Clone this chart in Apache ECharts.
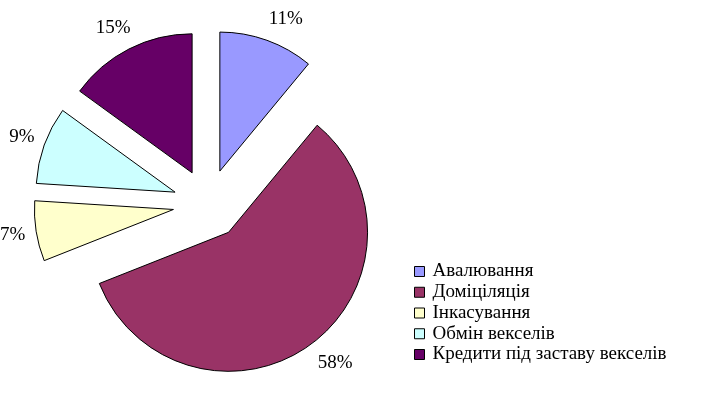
<!DOCTYPE html>
<html>
<head>
<meta charset="utf-8">
<script src="https://cdn.jsdelivr.net/npm/echarts@6/dist/echarts.min.js"></script>
<style>
html,body{margin:0;padding:0;background:#fff;}
#c{width:704px;height:399px;}
</style>
</head>
<body>
<div id="c"></div>
<script>
const categories = ['Авалювання', 'Доміціляція', 'Інкасування', 'Обмін векселів', 'Кредити під заставу векселів'];
const values = [11, 58, 7, 9, 15];
const colors = ['#9999FF', '#993366', '#FFFFCC', '#CCFFFF', '#660066'];

const chart = echarts.init(document.getElementById('c'), null, {renderer: 'canvas'});
chart.setOption({
  backgroundColor: '#ffffff',
  animation: false,
  legend: {
    orient: 'vertical',
    left: 414,
    top: 262,
    padding: 0,
    itemGap: 1.75,
    itemWidth: 10,
    itemHeight: 10,
    icon: 'rect',
    selectedMode: false,
    itemStyle: {borderColor: '#000', borderWidth: 1},
    textStyle: {fontFamily: 'Liberation Serif', fontSize: 19, color: '#000', padding: [0,0,0,3]},
    data: categories
  },
  series: [{
    type: 'pie',
    center: [208, 204],
    radius: 139,
    startAngle: 90,
    clockwise: true,
    avoidLabelOverlap: false,
    selectedMode: 'multiple',
    selectedOffset: 35,
    emphasis: {disabled: true},
    itemStyle: {borderColor: '#000', borderWidth: 1},
    select: {itemStyle: {borderColor: '#000', borderWidth: 1}},
    label: {
      show: true,
      position: 'outside',
      formatter: '{c}%',
      fontFamily: 'Liberation Serif',
      fontSize: 19,
      color: '#000',
      padding: [0, 0, 0, 6],
      distanceToLabelLine: -12
    },
    labelLine: {show: false, length: 23, length2: 0},
    data: categories.map((n, i) => ({
      name: n,
      value: values[i],
      selected: true,
      itemStyle: {color: colors[i]}
    }))
  }]
});
</script>
</body>
</html>
